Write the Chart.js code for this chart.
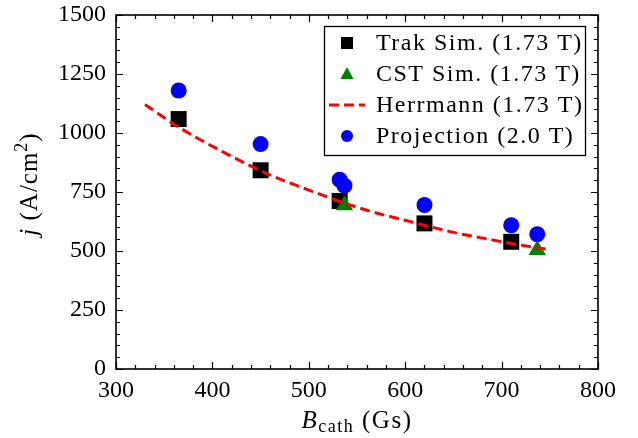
<!DOCTYPE html>
<html>
<head>
<meta charset="utf-8">
<script src="https://cdn.jsdelivr.net/npm/chart.js@4.4.1/dist/chart.umd.min.js"></script>
<style>
  html, body { margin: 0; padding: 0; background: #fff; }
  #wrap { width: 638px; height: 438px; position: relative; }
</style>
</head>
<body>
<div id="wrap"><canvas id="jChart"></canvas></div>
<script>
// values
const trakB = [365, 450, 532, 620, 710];
const trakJ = [1059, 842, 712, 617, 539];

const cstB = [537, 737];
const cstJ = [694, 504];

const herrB = [330, 365, 410, 460, 495, 530, 565, 600, 650, 685, 720, 750];
const herrJ = [1121, 1025, 922, 822, 766, 713, 667, 630, 579, 551, 525, 506];

const projB = [365, 450, 532, 537, 620, 710, 737];
const projJ = [1180, 953, 802, 777, 695, 609, 571];

const xTicks = [300, 400, 500, 600, 700, 800];
const yTicks = [0, 250, 500, 750, 1000, 1250, 1500];

const legendLabels = ['Trak Sim. (1.73 T)', 'CST Sim. (1.73 T)', 'Herrmann (1.73 T)', 'Projection (2.0 T)'];

const SERIF = "'Liberation Serif', 'DejaVu Serif', serif";
const FS = 24;

const pts = (xs, ys) => xs.map((x, i) => ({ x: x, y: ys[i] }));

// text in pieces (roman / italic / sub / sup)
function richWidth(ctx, parts) {
    let w = 0;
    parts.forEach(p => { ctx.font = p.font; w += ctx.measureText(p.t).width; });
    return w;
}
function drawRich(ctx, parts, x, y) {
    parts.forEach(p => {
        ctx.font = p.font;
        ctx.fillText(p.t, x, y + (p.dy || 0));
        x += ctx.measureText(p.t).width;
    });
}

const framePlugin = {
    id: 'frame',
    afterDraw(chart) {
        const ctx = chart.ctx;
        const a = chart.chartArea;
        const xs = chart.scales.x, ys = chart.scales.y;
        ctx.save();
        ctx.strokeStyle = '#000';
        ctx.lineWidth = 1.2;
        ctx.beginPath();
        // ticks point inward on all four sides
        for (let v = xs.min; v <= xs.max; v += 20) {
            const px = Math.round(xs.getPixelForValue(v)) + 0.5;
            const len = (v % 100 === 0) ? 7 : 4;
            ctx.moveTo(px, a.bottom); ctx.lineTo(px, a.bottom - len);
            ctx.moveTo(px, a.top); ctx.lineTo(px, a.top + len);
        }
        for (let v = ys.min; v <= ys.max; v += 50) {
            const py = Math.round(ys.getPixelForValue(v)) + 0.5;
            const len = (v % 250 === 0) ? 7 : 4;
            ctx.moveTo(a.left, py); ctx.lineTo(a.left + len, py);
            ctx.moveTo(a.right, py); ctx.lineTo(a.right - len, py);
        }
        ctx.stroke();
        ctx.lineWidth = 1.6;
        ctx.strokeRect(a.left, a.top, a.right - a.left, a.bottom - a.top);

        // axis titles
        ctx.fillStyle = '#000';
        ctx.textBaseline = 'alphabetic';
        ctx.textAlign = 'left';
        ctx.letterSpacing = '1.5px';
        const rom = '25px ' + SERIF;
        const ita = 'italic 25px ' + SERIF;
        const small = '18px ' + SERIF;
        const xTitle = [
            { t: 'B', font: ita },
            { t: 'cath', font: small, dy: 4 },
            { t: ' (Gs)', font: rom }
        ];
        const xw = richWidth(ctx, xTitle);
        drawRich(ctx, xTitle, (a.left + a.right) / 2 - xw / 2, 428);

        ctx.letterSpacing = '1px';
        const yTitle = [
            { t: 'j', font: ita },
            { t: ' (A/cm', font: rom },
            { t: '2', font: small, dy: -10 },
            { t: ')', font: rom }
        ];
        const yw = richWidth(ctx, yTitle);
        ctx.translate(37, 184);
        ctx.rotate(-Math.PI / 2);
        drawRich(ctx, yTitle, -yw / 2, 0);
        ctx.restore();

        // legend box
        ctx.save();
        const bx = 324, by = 26, bw = 261, bh = 129;
        ctx.fillStyle = '#fff';
        ctx.fillRect(bx, by, bw, bh);
        ctx.strokeStyle = '#000';
        ctx.lineWidth = 1.3;
        ctx.strokeRect(bx + 0.5, by + 0.5, bw, bh);
        ctx.font = '24px ' + SERIF;
        ctx.letterSpacing = '1.5px';
        ctx.textBaseline = 'middle';
        const ds = chart.data.datasets;
        legendLabels.forEach((lab, i) => {
            const cy = 43 + i * 31;
            const mx = 347;
            const d = ds[i];
            if (i === 0) {
                ctx.fillStyle = d.pointBackgroundColor;
                ctx.fillRect(mx - 6, cy - 6, 12, 12);
            } else if (i === 1) {
                ctx.fillStyle = d.pointBackgroundColor;
                ctx.beginPath();
                ctx.moveTo(mx, cy - 7);
                ctx.lineTo(mx + 6.5, cy + 5);
                ctx.lineTo(mx - 6.5, cy + 5);
                ctx.closePath();
                ctx.fill();
            } else if (i === 2) {
                ctx.strokeStyle = d.borderColor;
                ctx.lineWidth = d.borderWidth;
                ctx.setLineDash(d.borderDash);
                ctx.beginPath();
                ctx.moveTo(329, cy); ctx.lineTo(365, cy);
                ctx.stroke();
                ctx.setLineDash([]);
            } else {
                ctx.fillStyle = d.pointBackgroundColor;
                ctx.beginPath();
                ctx.arc(mx, cy, 6, 0, Math.PI * 2);
                ctx.fill();
            }
            ctx.fillStyle = '#000';
            ctx.fillText(lab, 376, cy + 1);
        });
        ctx.restore();
    }
};

new Chart(document.getElementById('jChart'), {
    type: 'scatter',
    data: {
        datasets: [
            {
                label: legendLabels[0],
                data: pts(trakB, trakJ),
                pointStyle: 'rect',
                pointRadius: 11.3,
                pointBackgroundColor: '#000000',
                pointBorderWidth: 0,
                order: 4
            },
            {
                label: legendLabels[1],
                data: pts(cstB, cstJ),
                pointStyle: 'triangle',
                pointRadius: 10,
                pointBackgroundColor: '#008000',
                pointBorderWidth: 0,
                order: 2
            },
            {
                label: legendLabels[2],
                data: pts(herrB, herrJ),
                showLine: true,
                borderColor: '#ff0000',
                borderWidth: 3,
                borderDash: [10, 5],
                cubicInterpolationMode: 'monotone',
                pointRadius: 0,
                order: 1
            },
            {
                label: legendLabels[3],
                data: pts(projB, projJ),
                pointStyle: 'circle',
                pointRadius: 8,
                pointBackgroundColor: '#0000ff',
                pointBorderWidth: 0,
                order: 3
            }
        ]
    },
    options: {
        responsive: true,
        maintainAspectRatio: false,
        animation: false,
        layout: { padding: { top: 15, right: 40, left: 0, bottom: 0 } },
        scales: {
            x: {
                type: 'linear',
                min: 300,
                max: 800,
                afterBuildTicks: s => { s.ticks = xTicks.map(v => ({ value: v })); },
                afterFit: s => { s.height = 69; s.paddingLeft = 0; s.paddingRight = 0; },
                grid: { display: false, drawTicks: false, tickLength: 0 },
                border: { display: false },
                ticks: {
                    padding: 7,
                    color: '#000',
                    font: { family: SERIF, size: FS },
                    maxRotation: 0,
                    callback: v => String(v)
                }
            },
            y: {
                min: 0,
                max: 1500,
                afterBuildTicks: s => { s.ticks = yTicks.map(v => ({ value: v })); },
                afterFit: s => { s.width = 116; s.paddingTop = 0; s.paddingBottom = 0; },
                grid: { display: false, drawTicks: false, tickLength: 0 },
                border: { display: false },
                ticks: {
                    padding: 10,
                    color: '#000',
                    font: { family: SERIF, size: FS },
                    callback: v => String(v)
                }
            }
        },
        plugins: {
            legend: { display: false },
            tooltip: { enabled: false }
        }
    },
    plugins: [framePlugin]
});
</script>
</body>
</html>
